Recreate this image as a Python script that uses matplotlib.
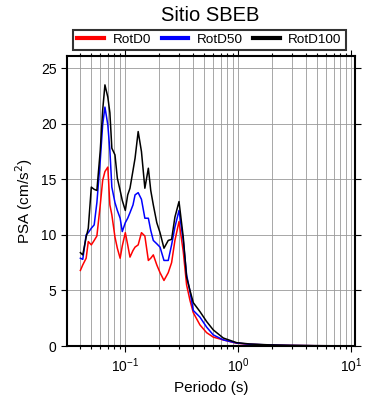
import matplotlib
matplotlib.use("Agg")
import matplotlib.pyplot as plt
from matplotlib.ticker import LogLocator, MultipleLocator, NullFormatter

plt.rcParams['font.family'] = ['Liberation Sans', 'DejaVu Sans']

# Periods (s)
periodo = [0.04, 0.042, 0.045, 0.047, 0.05, 0.053, 0.056, 0.06, 0.063, 0.066,
           0.07, 0.073, 0.076, 0.081, 0.085, 0.09, 0.094, 0.1, 0.105, 0.11,
           0.117, 0.122, 0.13, 0.139, 0.149, 0.16, 0.168, 0.177, 0.19, 0.203,
           0.22, 0.24, 0.257, 0.275, 0.299, 0.326, 0.349, 0.374, 0.4, 0.458,
           0.525, 0.601, 0.737, 0.968, 1.27, 1.91, 2.87, 4.77, 10.0]

# PSA (cm/s^2)
rotd0 = [6.8, 7.3, 7.9, 9.4, 9.1, 9.5, 9.9, 12.7, 14.9, 15.7,
         16.1, 12.7, 11.8, 9.8, 8.8, 7.9, 9.0, 10.2, 9.1, 8.0,
         8.6, 8.9, 9.1, 10.2, 9.9, 7.7, 7.9, 8.2, 7.3, 6.6,
         5.9, 6.6, 7.5, 9.5, 11.2, 8.5, 5.5, 4.1, 3.0, 1.9,
         1.2, 0.8, 0.55, 0.25, 0.15, 0.08, 0.05, 0.025, 0.01]

rotd50 = [7.9, 7.8, 10.0, 10.2, 10.6, 10.9, 12.9, 16.7, 19.9, 21.5,
          19.9, 17.6, 14.3, 12.9, 12.2, 11.5, 10.3, 11.1, 11.5, 12.0,
          12.7, 13.6, 13.8, 13.2, 11.5, 11.5, 10.4, 9.5, 9.2, 8.9,
          7.7, 7.7, 9.1, 10.7, 12.2, 9.5, 6.4, 4.9, 3.2, 2.6,
          1.7, 1.0, 0.55, 0.27, 0.16, 0.09, 0.05, 0.025, 0.01]

rotd100 = [8.4, 8.2, 9.8, 10.6, 14.3, 14.1, 14.0, 17.6, 21.2, 23.5,
           22.4, 21.0, 17.8, 17.2, 15.1, 14.0, 13.1, 12.2, 13.6, 14.2,
           15.8, 16.9, 19.3, 17.5, 14.2, 16.0, 14.0, 12.7, 11.1, 10.2,
           8.8, 9.5, 9.6, 11.6, 13.0, 9.8, 6.2, 5.0, 3.9, 3.1,
           2.2, 1.45, 0.72, 0.3, 0.18, 0.1, 0.06, 0.03, 0.01]

series = [("RotD0", rotd0, "red"), ("RotD50", rotd50, "blue"), ("RotD100", rotd100, "black")]

fig = plt.figure(figsize=(3.9, 4.0), dpi=100)
ax = fig.add_axes([0.172, 0.135, 0.738, 0.725])

for name, vals, col in series:
    ax.plot(periodo, vals, color=col, linewidth=1.1, label=name)

ax.set_xscale('log')
ax.set_xlim(0.0305, 10.8)
ax.set_ylim(0, 26.1)

ax.xaxis.set_major_locator(LogLocator(base=10))
ax.xaxis.set_minor_locator(LogLocator(base=10, subs=range(2, 10)))
ax.xaxis.set_minor_formatter(NullFormatter())
ax.yaxis.set_major_locator(MultipleLocator(5))

ax.grid(True, which='both', axis='x', color='0.6', linewidth=0.6)
ax.grid(True, which='major', axis='y', color='0.6', linewidth=0.6)
ax.set_axisbelow(True)

ax.tick_params(which='both', direction='out', top=True, right=True, labelsize=10, width=0.8)
ax.tick_params(which='major', length=4)
ax.tick_params(which='minor', length=2.5)
for s in ax.spines.values():
    s.set_linewidth(1.5)

ax.set_xlabel("Periodo (s)", fontsize=11)
ax.set_ylabel("PSA (cm/s$^2$)", fontsize=11)

fig.text(0.538, 0.962, "Sitio SBEB", ha='center', va='center', fontsize=14.5)

leg = ax.legend(loc='lower center', bbox_to_anchor=(0.495, 1.02),
                ncol=3, fontsize=9.7, frameon=True, fancybox=False, borderaxespad=0,
                handlelength=2.0, handletextpad=0.6, columnspacing=0.8, borderpad=0.3)
leg.get_frame().set_edgecolor('black')
leg.get_frame().set_linewidth(1.5)
for h in leg.get_lines():
    h.set_linewidth(3)

fig.savefig("out.png", dpi=100)
